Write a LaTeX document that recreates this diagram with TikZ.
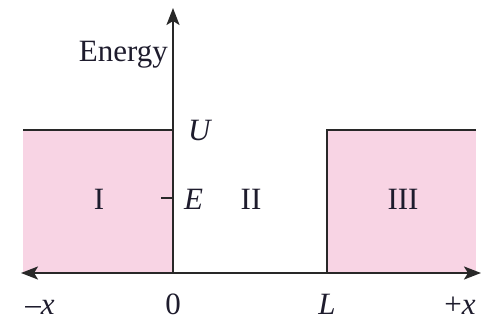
\documentclass[tikz,border=0pt]{standalone}
\usepackage{fontspec}
\setmainfont{Liberation Serif}
\usetikzlibrary{arrows.meta}
\definecolor{wellpink}{RGB}{248,212,228}
\definecolor{axisgray}{RGB}{40,40,40}
\definecolor{txt}{RGB}{30,28,45}
\begin{document}
\begin{tikzpicture}[x=1pt,y=-1pt,
  lbl/.style={font=\fontsize{31}{34}\selectfont, text=txt, inner sep=0pt},
  ln/.style={draw=axisgray, line width=2.4pt},
  arr/.style={ln, -{Stealth[length=17pt,width=13pt,inset=4pt]}}]
\useasboundingbox (0,0) rectangle (481,320);
% regions
\fill[wellpink] (23,130) rectangle (173,273);
\fill[wellpink] (327,130) rectangle (476,273);
\coordinate (o) at (173,273);
\coordinate (ytop) at (173,8);
\coordinate (xl) at (21,273);
\coordinate (xr) at (481,273);
\coordinate (uleft) at (23,130);
\coordinate (uright) at (476,130);
\coordinate (lb) at (327,273);
\coordinate (lt) at (327,130);
\coordinate (ut) at (173,130);
\coordinate (et) at (173,198);
\coordinate (etl) at (161,198);
\draw[ln] (uleft) -- (ut);
\draw[ln] (lb) -- (lt) -- (uright);
\draw[ln] (etl) -- (et);
\draw[arr] (o) -- (ytop);
\draw[arr] (o) -- (xl);
\draw[arr] (o) -- (xr);
% labels
\node[lbl, anchor=base east] (energy) at (168,62) {Energy};
\node[lbl, anchor=base west] (U) at (188,141) {\itshape U};
\node[lbl, anchor=base west] (E) at (184,209) {\itshape E};
\node[lbl, anchor=base] (I) at (99,209) {I};
\node[lbl, anchor=base] (II) at (251,209) {II};
\node[lbl, anchor=base] (III) at (403,209) {III};
\node[lbl, anchor=base] (mx) at (40,314) {–\itshape x};
\node[lbl, anchor=base] (zero) at (173,314) {0};
\node[lbl, anchor=base] (L) at (327,314) {\itshape L};
\node[lbl, anchor=base] (px) at (460,314) {+\itshape x};
\end{tikzpicture}
\end{document}
